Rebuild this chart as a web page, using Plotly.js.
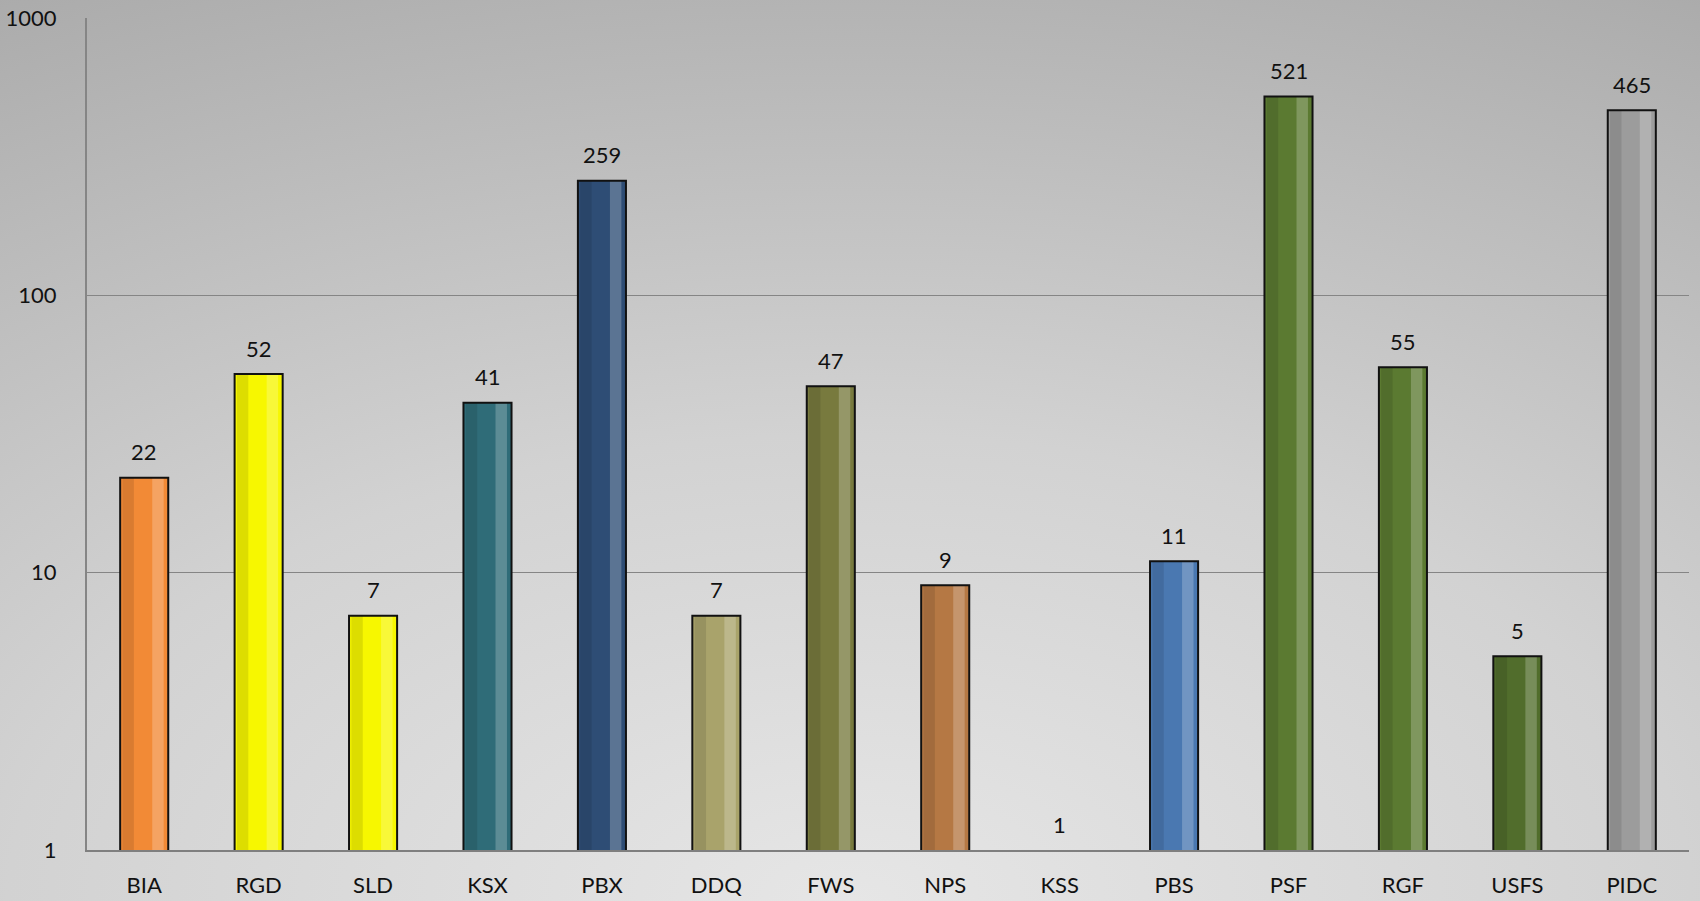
<!DOCTYPE html>
<html>
<head>
<meta charset="utf-8">
<script src="https://cdn.plot.ly/plotly-3.0.1.min.js"></script>
<style>
  html, body { margin: 0; padding: 0; }
  body {
    width: 1700px; height: 901px;
    background: radial-gradient(ellipse 110% 115% at 50% 100%, #e6e6e6 0%, #d2d2d2 45%, #aaaaaa 100%);
  }
  #chart { width: 1700px; height: 901px; }
</style>
</head>
<body>
<div id="chart"></div>
<script>
const agencies = ['BIA', 'RGD', 'SLD', 'KSX', 'PBX', 'DDQ', 'FWS', 'NPS', 'KSS', 'PBS', 'PSF', 'RGF', 'USFS', 'PIDC'];
const counts = [22, 52, 7, 41, 259, 7, 47, 9, 1, 11, 521, 55, 5, 465];
const barColors = ['#f28a36', '#f7f700', '#f7f700', '#2f6c78', '#2e4d75', '#a9a36b', '#787a3e',
                   '#b57844', '#888888', '#4a78b1', '#5b7a31', '#5b7a31', '#516d2c', '#9c9c9c'];
const yTicks = [1, 10, 100, 1000];

const font = 'Lato, "Open Sans", sans-serif';

// a bar at 1 has no height on the log axis, so no outline for it
const outlineWidth = counts.map(v => (v > 1 ? 2 : 0));

const fill = {
  type: 'bar',
  x: agencies,
  y: counts,
  width: 0.42,
  marker: {color: barColors, line: {width: 0}},
  hoverinfo: 'x+y'
};

// soft shine on the right side and shade on the left, for the bevelled look
const shade = {
  type: 'bar',
  x: agencies,
  y: counts,
  width: 0.1,
  offset: -0.19,
  marker: {color: '#000000', opacity: 0.1, line: {width: 0}},
  hoverinfo: 'skip'
};
const shine = {
  type: 'bar',
  x: agencies,
  y: counts,
  width: 0.1,
  offset: 0.07,
  marker: {color: '#ffffff', opacity: 0.22, line: {width: 0}},
  hoverinfo: 'skip'
};

// outline drawn last so it sits over the shading
const outline = {
  type: 'bar',
  x: agencies,
  y: counts,
  width: 0.42,
  marker: {color: 'rgba(0,0,0,0)', line: {color: '#111111', width: outlineWidth}},
  hoverinfo: 'skip'
};

// value labels sit a bit above each bar top
const labels = agencies.map((a, i) => ({
  x: a,
  y: Math.log10(counts[i]),
  xref: 'x',
  yref: 'y',
  text: String(counts[i]),
  showarrow: false,
  yanchor: 'middle',
  yshift: 26,
  font: {family: font, size: 22, color: '#111111'}
}));

const layout = {
  width: 1700,
  height: 901,
  margin: {l: 87, r: 11, t: 18, b: 51},
  paper_bgcolor: 'rgba(0,0,0,0)',
  plot_bgcolor: 'rgba(0,0,0,0)',
  barmode: 'overlay',
  showlegend: false,
  font: {family: font, size: 22, color: '#111111'},
  xaxis: {
    type: 'category',
    showgrid: false,
    showline: true,
    linecolor: '#7f7f7f',
    linewidth: 2,
    ticks: '',
    ticklabelstandoff: 15,
    tickfont: {family: font, size: 22, color: '#111111'}
  },
  yaxis: {
    type: 'log',
    range: [0, 3],
    tickvals: yTicks,
    ticktext: yTicks.map(String),
    showgrid: true,
    gridcolor: '#858585',
    gridwidth: 1.3,
    showline: true,
    linecolor: '#858585',
    linewidth: 2,
    zeroline: false,
    ticks: '',
    ticklabelstandoff: 24,
    tickfont: {family: font, size: 22, color: '#111111'}
  },
  annotations: labels
};

Plotly.newPlot('chart', [fill, shade, shine, outline], layout, {displayModeBar: false});
</script>
</body>
</html>
